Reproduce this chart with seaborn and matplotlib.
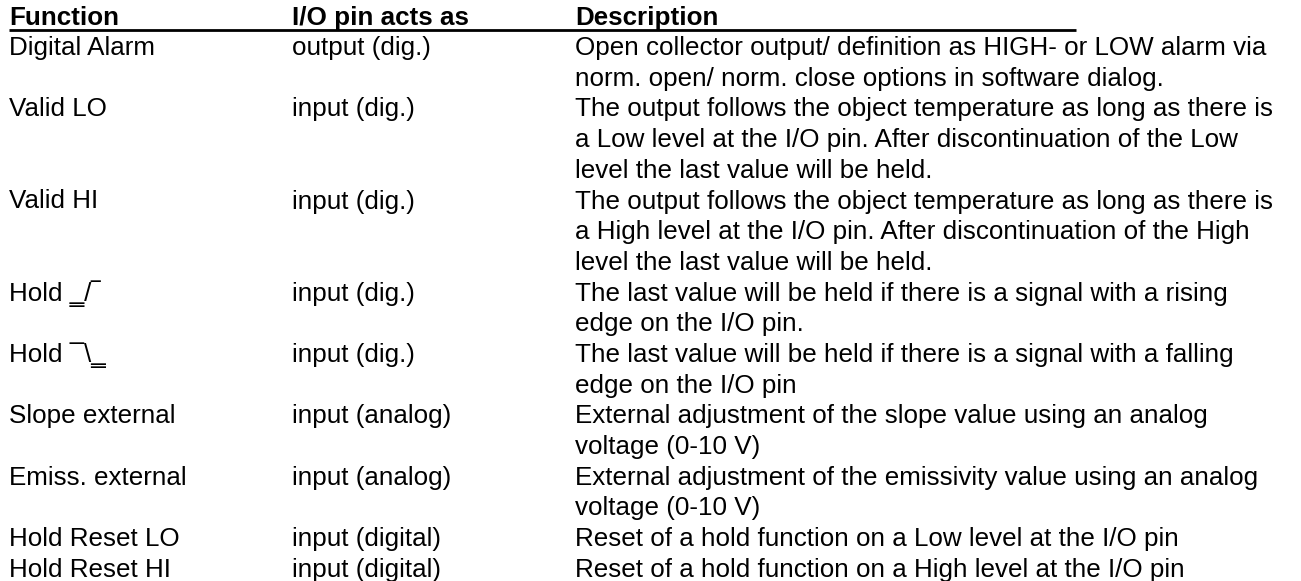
import matplotlib
matplotlib.use("Agg")
import matplotlib.pyplot as plt
import seaborn as sns

headers = ["Function", "I/O pin acts as", "Description"]

functions = ["Digital Alarm", "Valid LO", "Valid HI", "Hold \u2017/\u203e", "Hold \u00af\\\u2017",
             "Slope external", "Emiss. external", "Hold Reset LO", "Hold Reset HI"]

pin_modes = ["output (dig.)", "input (dig.)", "input (dig.)", "input (dig.)", "input (dig.)",
             "input (analog)", "input (analog)", "input (digital)", "input (digital)"]

descriptions = [
    "Open collector output/ definition as HIGH- or LOW alarm via\nnorm. open/ norm. close options in software dialog.",
    "The output follows the object temperature as long as there is\na Low level at the I/O pin. After discontinuation of the Low\nlevel the last value will be held.",
    "The output follows the object temperature as long as there is\na High level at the I/O pin. After discontinuation of the High\nlevel the last value will be held.",
    "The last value will be held if there is a signal with a rising\nedge on the I/O pin.",
    "The last value will be held if there is a signal with a falling\nedge on the I/O pin",
    "External adjustment of the slope value using an analog\nvoltage (0-10 V)",
    "External adjustment of the emissivity value using an analog\nvoltage (0-10 V)",
    "Reset of a hold function on a Low level at the I/O pin",
    "Reset of a hold function on a High level at the I/O pin",
]

sns.set_theme(style="white")
plt.rcParams["font.family"] = ["Liberation Sans", "DejaVu Sans"]

W, H = 1301, 581
fig = plt.figure(figsize=(W / 100, H / 100), dpi=100)
ax = fig.add_axes([0, 0, 1, 1])
ax.set_xlim(0, W)
ax.set_ylim(H, 0)
ax.axis("off")

fs = 18.7
col_x = [9, 292, 575]
pitch = 30.7

for x, h in zip(col_x, headers):
    ax.text(x, 25, h, fontsize=fs, fontweight="bold", va="baseline", ha="left", color="black")
ax.hlines(29.5, 9, 1076, color="black", lw=2)

y = 55
for f, p, d in zip(functions, pin_modes, descriptions):
    ax.text(col_x[0], y, f, fontsize=fs, va="baseline", ha="left", color="black")
    ax.text(col_x[1], y, p, fontsize=fs, va="baseline", ha="left", color="black")
    lines = d.split("\n")
    for i, line in enumerate(lines):
        ax.text(col_x[2], y + i * pitch, line, fontsize=fs, va="baseline", ha="left", color="black")
    y += pitch * len(lines)

fig.savefig("out.png", dpi=100, facecolor="white")
